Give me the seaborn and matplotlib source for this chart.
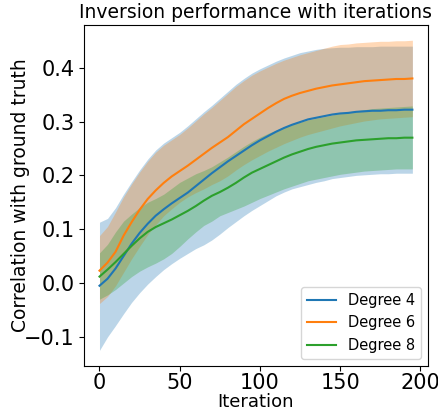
import numpy as np
import pandas as pd
import matplotlib
matplotlib.use("Agg")
import matplotlib.pyplot as plt
import seaborn as sns

iterations = list(range(0, 200, 5))

deg4_mean = [-0.005, 0.008, 0.027, 0.050, 0.073, 0.093, 0.110, 0.125, 0.137, 0.148,
             0.158, 0.168, 0.180, 0.192, 0.204, 0.215, 0.226, 0.236, 0.246, 0.256,
             0.265, 0.273, 0.281, 0.288, 0.294, 0.299, 0.304, 0.307, 0.310, 0.313,
             0.315, 0.316, 0.318, 0.319, 0.320, 0.320, 0.321, 0.321, 0.322, 0.322]
deg4_upper = [0.113, 0.120, 0.140, 0.165, 0.188, 0.210, 0.230, 0.247, 0.260, 0.270,
              0.280, 0.292, 0.305, 0.318, 0.330, 0.343, 0.356, 0.369, 0.380, 0.390,
              0.398, 0.405, 0.412, 0.418, 0.423, 0.428, 0.431, 0.434, 0.436, 0.437,
              0.438, 0.438, 0.439, 0.439, 0.439, 0.440, 0.440, 0.440, 0.440, 0.440]
deg4_lower = [-0.125, -0.100, -0.079, -0.057, -0.036, -0.018, -0.002, 0.012, 0.025, 0.036,
              0.046, 0.055, 0.064, 0.071, 0.080, 0.091, 0.103, 0.114, 0.125, 0.135,
              0.144, 0.153, 0.162, 0.169, 0.175, 0.179, 0.183, 0.187, 0.190, 0.194,
              0.196, 0.198, 0.200, 0.201, 0.202, 0.203, 0.203, 0.204, 0.204, 0.204]

deg6_mean = [0.023, 0.038, 0.058, 0.088, 0.113, 0.136, 0.156, 0.172, 0.186, 0.198,
             0.208, 0.218, 0.229, 0.240, 0.251, 0.261, 0.271, 0.283, 0.295, 0.305,
             0.315, 0.325, 0.334, 0.342, 0.348, 0.353, 0.357, 0.361, 0.364, 0.367,
             0.369, 0.371, 0.373, 0.375, 0.376, 0.377, 0.378, 0.379, 0.379, 0.380]
deg6_upper = [0.088, 0.105, 0.132, 0.160, 0.184, 0.206, 0.226, 0.243, 0.256, 0.266,
              0.276, 0.288, 0.301, 0.314, 0.326, 0.339, 0.352, 0.365, 0.376, 0.386,
              0.394, 0.401, 0.408, 0.414, 0.419, 0.424, 0.428, 0.432, 0.436, 0.440,
              0.443, 0.444, 0.446, 0.447, 0.448, 0.449, 0.449, 0.450, 0.450, 0.451]
deg6_lower = [-0.038, -0.025, -0.005, 0.020, 0.045, 0.068, 0.090, 0.108, 0.125, 0.138,
              0.150, 0.160, 0.168, 0.175, 0.183, 0.190, 0.199, 0.210, 0.220, 0.229,
              0.237, 0.245, 0.252, 0.259, 0.265, 0.271, 0.276, 0.280, 0.284, 0.288,
              0.292, 0.295, 0.298, 0.301, 0.303, 0.305, 0.306, 0.307, 0.308, 0.309]

deg8_mean = [0.012, 0.025, 0.039, 0.054, 0.069, 0.083, 0.095, 0.104, 0.111, 0.118,
             0.126, 0.134, 0.143, 0.153, 0.162, 0.169, 0.177, 0.186, 0.196, 0.205,
             0.212, 0.219, 0.226, 0.233, 0.239, 0.244, 0.249, 0.253, 0.256, 0.259,
             0.261, 0.263, 0.265, 0.266, 0.267, 0.268, 0.269, 0.269, 0.270, 0.270]
deg8_upper = [0.056, 0.072, 0.095, 0.115, 0.128, 0.140, 0.150, 0.157, 0.165, 0.176,
              0.187, 0.195, 0.203, 0.209, 0.216, 0.225, 0.234, 0.244, 0.254, 0.263,
              0.271, 0.278, 0.284, 0.290, 0.295, 0.299, 0.303, 0.306, 0.309, 0.312,
              0.315, 0.318, 0.320, 0.322, 0.324, 0.325, 0.326, 0.327, 0.328, 0.329]
deg8_lower = [-0.030, -0.022, -0.012, 0.000, 0.012, 0.022, 0.030, 0.037, 0.045, 0.055,
              0.068, 0.082, 0.095, 0.107, 0.115, 0.125, 0.131, 0.137, 0.143, 0.150,
              0.157, 0.163, 0.169, 0.175, 0.180, 0.185, 0.190, 0.193, 0.196, 0.199,
              0.202, 0.204, 0.206, 0.208, 0.209, 0.210, 0.211, 0.212, 0.212, 0.212]

series_names = ["Degree 4", "Degree 6", "Degree 8"]
means = [deg4_mean, deg6_mean, deg8_mean]
uppers = [deg4_upper, deg6_upper, deg8_upper]
lowers = [deg4_lower, deg6_lower, deg8_lower]

colors = sns.color_palette("tab10", 3)

frames = []
for name, m in zip(series_names, means):
    frames.append(pd.DataFrame({"Iteration": iterations, "corr": m, "series": name}))
df = pd.concat(frames, ignore_index=True)

fig = plt.figure(figsize=(4.39, 4.12), dpi=100)
ax = fig.add_axes([0.191, 0.112, 0.784, 0.828])

# spread bands first, mean curves on top
for lo, hi, c in zip(lowers, uppers, colors):
    ax.fill_between(iterations, lo, hi, color=c, alpha=0.3, linewidth=0)

sns.lineplot(data=df, x="Iteration", y="corr", hue="series", palette=colors,
             errorbar=None, linewidth=1.5, ax=ax)

ax.set_title("Inversion performance with iterations", fontsize=13.5, pad=5)
ax.set_xlabel("Iteration", fontsize=13, labelpad=0)
ax.set_ylabel("Correlation with ground truth", fontsize=13.5, labelpad=-4)
ax.set_xticks([0, 50, 100, 150, 200])
ax.set_yticks([-0.1, 0.0, 0.1, 0.2, 0.3, 0.4])
ax.tick_params(labelsize=15, pad=3)
ax.tick_params(axis="x", pad=2)
ax.legend(loc="lower right", fontsize=10.5, title=None)

fig.savefig("out.png", dpi=100)
